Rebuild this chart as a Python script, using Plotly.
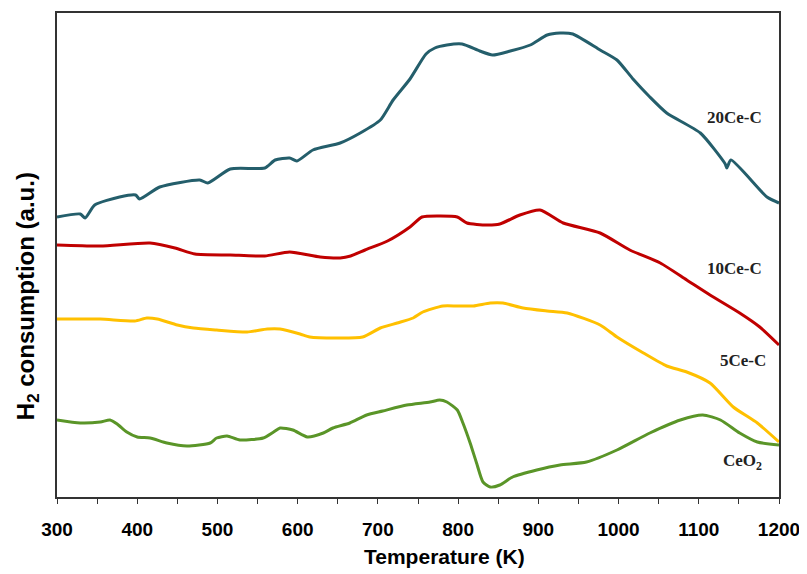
import plotly.graph_objects as go

# Temperature (K) and H2 consumption (a.u.)
t_20 = [300, 329, 335, 347, 378, 398, 403, 428, 478, 488, 516, 559, 572, 590, 599, 619, 653, 678, 703, 719,
        740, 760, 771, 786, 805, 827, 843, 865, 890, 911, 927, 943, 977, 998, 1018, 1039, 1060, 1102, 1133,
        1135, 1140, 1185, 1200]
y_20 = [280, 283, 279, 292, 300, 302, 298, 310, 317, 314, 328, 329, 337, 339, 336, 347, 354, 364, 377, 397,
        418, 443, 449, 452, 453, 446, 442, 446, 452, 462, 464, 463, 447, 437, 418, 400, 384, 364, 333,
        329, 337, 300, 294]

t_10 = [300, 354, 416, 447, 472, 516, 559, 590, 628, 653, 666, 684, 712, 740, 755, 778, 799, 811, 836, 852,
        877, 902, 931, 977, 1014, 1052, 1085, 1114, 1151, 1176, 1200]
y_10 = [252, 251, 254, 249, 243, 242, 241, 245, 240, 239, 241, 247, 256, 270, 280, 281, 280, 274, 272, 273,
        282, 287, 274, 264, 247, 234, 217, 202, 184, 170, 152]

t_5 = [300, 354, 397, 412, 425, 450, 470, 499, 537, 562, 578, 603, 615, 649, 681, 703, 724, 744, 756, 781,
       799, 819, 840, 856, 881, 911, 936, 977, 998, 1031, 1060, 1085, 1114, 1143, 1173, 1200]
y_5 = [178, 178, 176, 179, 178, 172, 169, 167, 165, 168, 168, 163, 160, 159, 160, 169, 174, 179, 185, 191,
       191, 191, 194, 194, 189, 186, 184, 172, 160, 144, 131, 125, 114, 90, 74, 55]

t_ce = [300, 329, 354, 366, 375, 387, 400, 416, 437, 462, 491, 499, 512, 528, 557, 570, 578, 594, 612, 632,
        644, 665, 686, 706, 736, 765, 777, 786, 799, 806, 815, 823, 831, 840, 852, 868, 898, 927, 960, 998,
        1039, 1077, 1105, 1127, 1151, 1173, 1200]
y_ce = [77, 74, 75, 77, 73, 65, 60, 59, 54, 51, 54, 59, 61, 57, 59, 65, 69, 67, 60, 64,
        69, 74, 82, 86, 92, 95, 97, 95, 87, 74, 54, 34, 15, 10, 12, 20, 27, 32, 35, 47,
        64, 77, 82, 77, 64, 55, 52]

series = [
    ("20Ce-C", t_20, y_20, "#245E6B"),
    ("10Ce-C", t_10, y_10, "#C00000"),
    ("5Ce-C", t_5, y_5, "#FFC000"),
    ("CeO<sub>2</sub>", t_ce, y_ce, "#5A9528"),
]

label_names = ["20Ce-C", "10Ce-C", "5Ce-C", "CeO<sub>2</sub>"]
label_x = [1145, 1145, 1155, 1155]
label_y = [380, 229, 137, 35]

x_title = "Temperature (K)"
y_title = "H<sub>2</sub> consumption (a.u.)"

tick_vals = list(range(300, 1201, 50))
tick_text = ["<b>%d</b>" % v if v % 100 == 0 else "" for v in tick_vals]

fig = go.Figure()
for name, t, y, c in series:
    fig.add_trace(go.Scatter(x=t, y=y, mode="lines", name=name,
                             line=dict(color=c, width=3, shape="spline", smoothing=0.6)))

for name, lx, ly in zip(label_names, label_x, label_y):
    fig.add_annotation(x=lx, y=ly, text="<b>" + name + "</b>", showarrow=False,
                       font=dict(family="Liberation Serif", size=17, color="#222222"))

# axis titles (placed as in the reference, which is not centred on the axes)
fig.add_annotation(xref="paper", yref="paper", x=0.537, y=0, yanchor="middle", yshift=-59,
                   text="<b>" + x_title + "</b>", showarrow=False,
                   font=dict(family="Liberation Sans", size=21, color="black"))
fig.add_annotation(xref="paper", yref="paper", x=0, y=0.415, xanchor="center", xshift=-30,
                   textangle=-90, text="<b>" + y_title + "</b>", showarrow=False,
                   font=dict(family="Liberation Sans", size=24, color="black"))

fig.update_layout(
    width=807, height=574,
    margin=dict(l=49, r=36, t=5, b=85),
    paper_bgcolor="white", plot_bgcolor="white",
    showlegend=False,
    font=dict(family="Liberation Sans", color="black"),
)
fig.update_xaxes(
    range=[300, 1200], tickvals=tick_vals, ticktext=tick_text, automargin=False,
    ticks="outside", ticklen=5, tickcolor="#333333", tickwidth=1.2, ticklabelstandoff=9,
    showline=True, linecolor="#333333", linewidth=1.5, mirror=True,
    showgrid=False, zeroline=False,
    tickfont=dict(family="Liberation Sans", size=19, color="black"),
)
fig.update_yaxes(
    range=[0, 484], showticklabels=False, ticks="", automargin=False,
    showline=True, linecolor="#333333", linewidth=1.5, mirror=True,
    showgrid=False, zeroline=False,
)

fig.write_html("out.html")
